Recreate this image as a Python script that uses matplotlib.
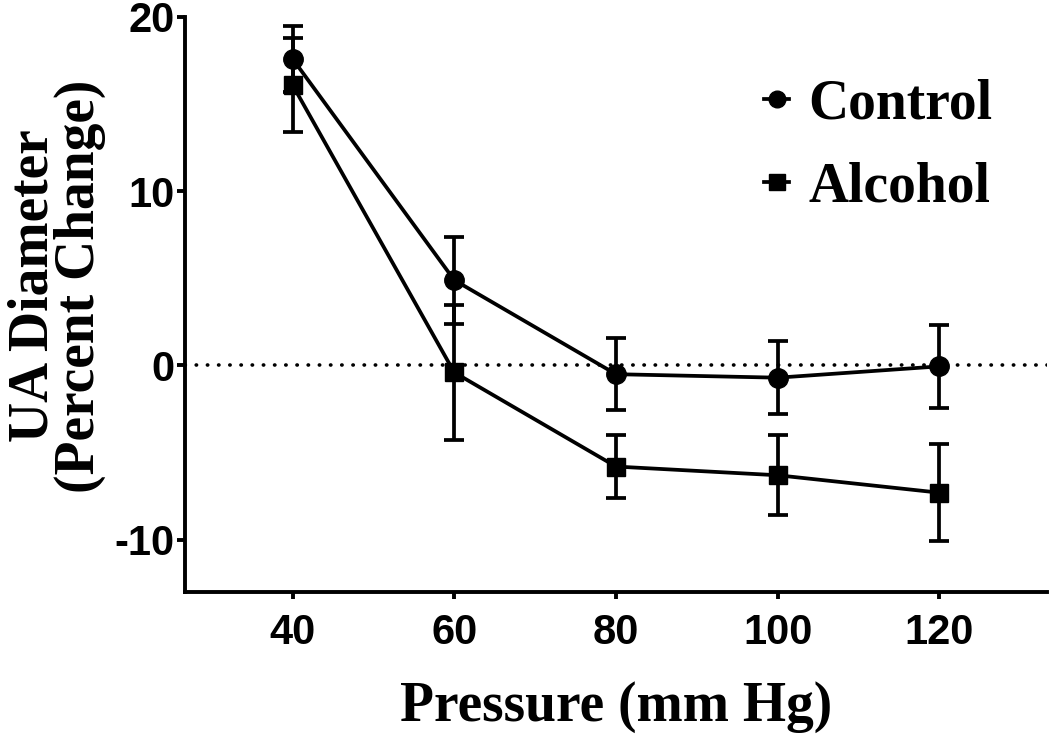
import matplotlib
matplotlib.use("Agg")
import matplotlib.pyplot as plt
from matplotlib.lines import Line2D

plt.rcParams["axes.unicode_minus"] = False

pressure = [40, 60, 80, 100, 120]
control_mean = [17.6, 4.9, -0.5, -0.7, -0.05]
control_err = [1.9, 2.5, 2.05, 2.1, 2.4]
alcohol_mean = [16.1, -0.4, -5.8, -6.3, -7.3]
alcohol_err = [2.7, 3.9, 1.8, 2.3, 2.8]
xticks = [40, 60, 80, 100, 120]
yticks = [-10, 0, 10, 20]

fig = plt.figure(figsize=(10.5, 7.34), dpi=100)
ax = fig.add_axes([185/1050, 1 - 592/734, (1047-185)/1050, (592-17)/734])

lw = 2.7
ax.axhline(0, color="black", linewidth=2.6, linestyle=(0, (0.1, 3.0)),
           dash_capstyle="round", zorder=1)

ax.errorbar(pressure, control_mean, yerr=control_err, color="black",
            linewidth=lw, elinewidth=lw, capsize=7, capthick=lw,
            marker="o", markersize=14, zorder=3)
ax.errorbar(pressure, alcohol_mean, yerr=alcohol_err, color="black",
            linewidth=lw, elinewidth=lw, capsize=7, capthick=lw,
            marker="s", markersize=13, zorder=3)

ax.set_xlim(26.7, 133.3)
ax.set_ylim(-13, 20)
ax.set_xticks(xticks)
ax.set_yticks(yticks)
for s in ["top", "right"]:
    ax.spines[s].set_visible(False)
for s in ["left", "bottom"]:
    ax.spines[s].set_linewidth(2.8)

ax.tick_params(axis="y", direction="out", length=6, width=2.8, pad=1.5)
ax.tick_params(axis="x", direction="out", length=5, width=2.8, pad=10)
for lab in ax.get_xticklabels() + ax.get_yticklabels():
    lab.set_fontfamily("Liberation Sans")
    lab.set_fontweight("bold")
    lab.set_fontsize(30)

serif = dict(family="Liberation Serif", weight="bold", size=40)
ax.set_xlabel("Pressure (mm Hg)", fontdict=serif, labelpad=20)
ax.set_ylabel("UA Diameter\n(Percent Change)", fontdict=serif,
              linespacing=0.85)
ax.yaxis.set_label_coords(-0.092, 0.532)

handles = [
    Line2D([0], [0], color="black", linewidth=lw, marker="o", markersize=12),
    Line2D([0], [0], color="black", linewidth=lw, marker="s", markersize=11),
]
leg = ax.legend(handles, ["Control", "Alcohol"], loc="upper right",
                bbox_to_anchor=(0.995, 0.98), frameon=False,
                handlelength=0.45, handletextpad=0.35, labelspacing=0.55,
                prop=dict(family="Liberation Serif", weight="bold", size=40))

fig.savefig("out.png", dpi=100)
